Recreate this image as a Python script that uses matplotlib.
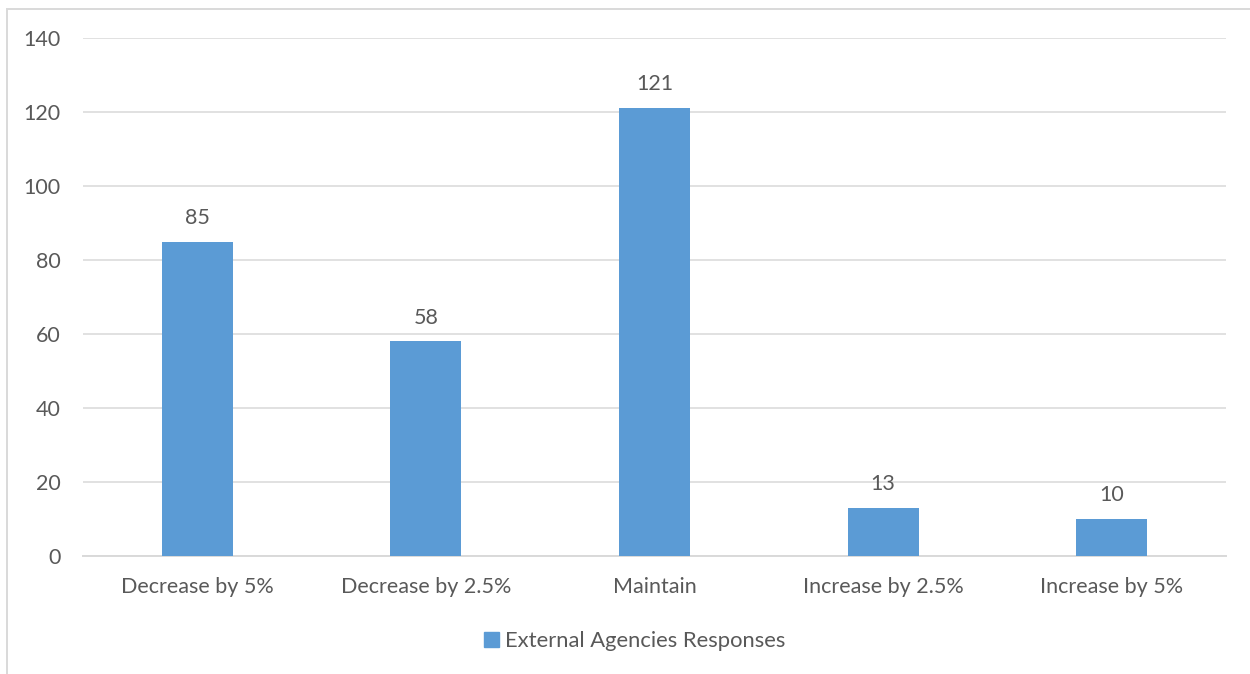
import matplotlib.pyplot as plt
import numpy as np
from matplotlib.patches import Rectangle

# Survey answers, external agencies
categories = ['Decrease by 5%', 'Decrease by 2.5%', 'Maintain', 'Increase by 2.5%', 'Increase by 5%']
responses = [85, 58, 121, 13, 10]
series_name = 'External Agencies Responses'

bar_color = '#5B9BD5'
text_color = '#595959'
grid_color = '#D9D9D9'

plt.rcParams['font.family'] = ['Lato', 'DejaVu Sans']

fig = plt.figure(figsize=(12.5, 6.74), dpi=100)
ax = fig.add_axes([0.0664, 0.1751, 0.9144, 0.7685])

x = np.arange(len(categories))
bars = ax.bar(x, responses, width=0.31, color=bar_color, zorder=3)

for xi, v in zip(x, responses):
    ax.annotate(str(v), (xi, v), xytext=(0, 10), textcoords='offset points',
                ha='center', va='bottom', fontsize=15.5, color=text_color)

ax.set_xlim(-0.5, len(categories) - 0.5)
ax.set_ylim(0, 140)
ax.set_yticks(range(0, 141, 20))
ax.set_xticks(x)
ax.set_xticklabels(categories)
ax.tick_params(axis='both', length=0, labelsize=15.5, colors=text_color)
ax.tick_params(axis='x', pad=15)
ax.tick_params(axis='y', pad=16)

ax.grid(axis='y', color=grid_color, lw=1.1, zorder=0)
for side in ['top', 'right', 'left']:
    ax.spines[side].set_visible(False)
ax.spines['bottom'].set_color(grid_color)
ax.spines['bottom'].set_linewidth(1.4)

# outer chart frame
fig.patches.append(Rectangle((7 / 1250, -0.1), 1.2, 1 - 9 / 674 + 0.1,
                             transform=fig.transFigure, fill=False,
                             edgecolor=grid_color, lw=1.4))

handle = Rectangle((0, 0), 1, 1, color=bar_color)
fig.legend([handle], [series_name], loc='center', bbox_to_anchor=(0.508, 0.049),
           frameon=False, fontsize=15.8, handlelength=0.65, handleheight=0.65,
           handletextpad=0.3, labelcolor=text_color)

fig.savefig('out.png', dpi=100)
